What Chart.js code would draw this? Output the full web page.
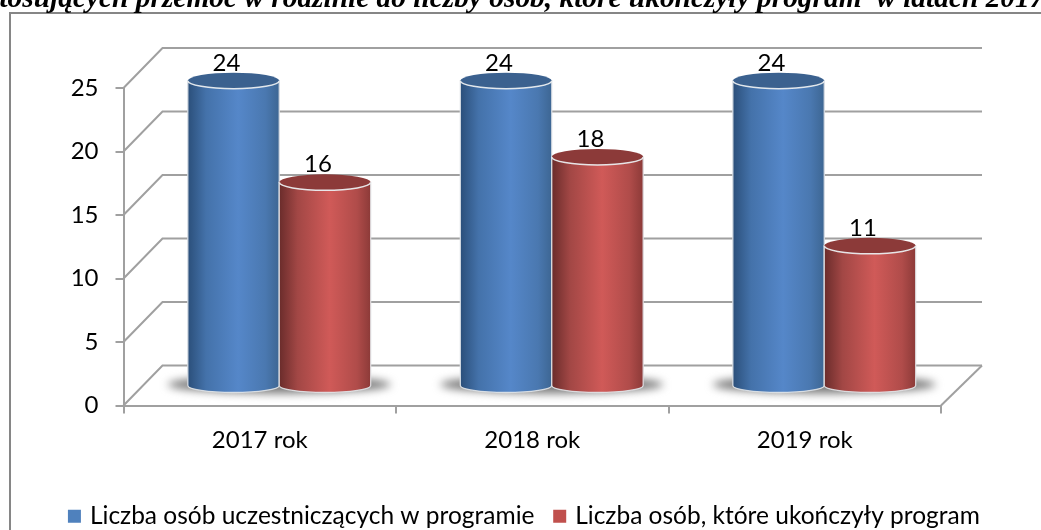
<!DOCTYPE html>
<html lang="pl">
<head>
<meta charset="utf-8">
<style>html,body{margin:0;padding:0;background:#fff}canvas{display:block}</style>
<script src="https://cdn.jsdelivr.net/npm/chart.js@4"></script>
</head>
<body>
<canvas id="c" width="1041" height="530"></canvas>
<script>
const categories = ['2017 rok', '2018 rok', '2019 rok'];
const seriesNames = ['Liczba osób uczestniczących w programie', 'Liczba osób, które ukończyły program'];
const participants = [24, 24, 24];
const completed = [16, 18, 11];
const yTicks = [0, 5, 10, 15, 20, 25];
const titleText = 'stosujących przemoc w rodzinie do liczby osób, które ukończyły program  w latach 2017';

const FONT = 'Lato, Carlito, sans-serif';
const GRID = '#a0a0a0';
const BAR_DX = 19.5, BAR_DY = -20, RY = 8;
const palettes = [
  {legend:'#4f81bd', stops:['#2b4f7a','#4472aa','#5587c9','#4a78b0','#3d6693'], top:'#3b618f'},
  {legend:'#c0504d', stops:['#6a2c2b','#a24745','#d05a58','#b04c4a','#8c3a38'], top:'#8c3a39'}
];

const depthPlugin = {
  id: 'depth3d',
  beforeLayout(chart) {
    const lg = chart.legend;
    if (lg && !lg._wideFit) {
      const fit = lg.fit;
      lg.fit = function () { this.maxWidth = 1041; fit.call(this); };
      lg._wideFit = true;
    }
  },
  afterLayout(chart) {
    const lg = chart.legend;
    lg.left = 0; lg.right = 1051;
    lg.top = 482; lg.bottom = 558;
  },
  beforeDraw(chart) {
    const c = chart.ctx;
    c.save();
    c.fillStyle = '#fff'; c.fillRect(0,0,chart.width,chart.height);
    c.strokeStyle = '#868686'; c.lineWidth = 2;
    c.beginPath(); c.moveTo(10,530); c.lineTo(10,13); c.lineTo(1041,13); c.stroke();
    c.font = 'italic bold 29.4px "Liberation Serif", serif';
    c.fillStyle = '#000'; c.textAlign='left'; c.textBaseline='alphabetic';
    c.fillText(titleText, -12, 6.5);
    c.restore();
  },
  beforeDatasetsDraw(chart) {
    const c = chart.ctx, y = chart.scales.y, a = chart.chartArea;
    c.save();
    c.strokeStyle = GRID; c.lineWidth = 2; c.lineCap = 'butt';
    yTicks.forEach(t => {
      const py = y.getPixelForValue(t);
      c.beginPath(); c.moveTo(a.left, py); c.lineTo(a.left+39, py-40); c.lineTo(a.right+41, py-40); c.stroke();
    });
    const b = y.getPixelForValue(0);
    c.beginPath(); c.moveTo(a.right, b); c.lineTo(a.right+41, b-40); c.stroke();
    // soft shadow under each pair of cylinders
    const m0 = chart.getDatasetMeta(0), m1 = chart.getDatasetMeta(1);
    categories.forEach((_, i) => {
      const cx = (m0.data[i].x + m1.data[i].x)/2 + BAR_DX, w = m0.data[i].width;
      c.save();
      c.filter = 'blur(4px)';
      c.fillStyle = '#7a7a7a';
      c.beginPath(); c.ellipse(cx, b+BAR_DY-1, w+20, 9, 0, 0, Math.PI*2); c.fill();
      c.restore();
    });
    c.restore();
  },
  beforeDatasetDraw(chart) { chart.ctx.save(); chart.ctx.translate(BAR_DX, BAR_DY); },
  afterDatasetDraw(chart) { chart.ctx.restore(); },
  afterDatasetsDraw(chart) {
    const c = chart.ctx, base = chart.scales.y.getPixelForValue(0) + BAR_DY;
    [0,1].forEach(ds => {
      const pal = palettes[ds];
      chart.getDatasetMeta(ds).data.forEach((el, i) => {
        const cx = el.x + BAR_DX, top = el.y + BAR_DY, rx = el.width/2;
        const g = c.createLinearGradient(cx-rx,0,cx+rx,0);
        pal.stops.forEach((s,k)=>g.addColorStop([0,.2,.55,.85,1][k],s));
        c.save();
        c.fillStyle = g;
        c.beginPath();
        c.moveTo(cx-rx, top);
        c.lineTo(cx-rx, base);
        c.ellipse(cx, base, rx, RY-1, 0, Math.PI, 0, true);
        c.lineTo(cx+rx, top);
        c.closePath(); c.fill();
        c.strokeStyle = 'rgba(225,228,232,.9)'; c.lineWidth = 1.3;
        c.stroke();
        c.fillStyle = pal.top;
        c.beginPath(); c.ellipse(cx, top, rx, RY, 0, 0, Math.PI*2); c.fill();
        c.strokeStyle = 'rgba(235,238,240,.95)'; c.lineWidth = 1.5;
        c.beginPath(); c.ellipse(cx, top, rx, RY, 0, 0, Math.PI); c.stroke();
        c.fillStyle = '#000';
        c.font = '24px ' + FONT; c.textAlign='center'; c.textBaseline='alphabetic';
        const vals = ds === 0 ? participants : completed;
        c.fillText(String(vals[i]), cx-7, top-10);
        c.restore();
      });
    });
  }
};

new Chart(document.getElementById('c'), {
  type: 'bar',
  data: {
    labels: categories,
    datasets: [
      {label: seriesNames[0], data: participants, backgroundColor: palettes[0].legend, borderWidth: 0},
      {label: seriesNames[1], data: completed, backgroundColor: palettes[1].legend, borderWidth: 0}
    ]
  },
  options: {
    responsive: false,
    animation: false,
    events: [],
    layout: {padding: {left: 0, right: 100, top: 88, bottom: 0}},
    datasets: {bar: {barPercentage: 1, categoryPercentage: 0.671, clip: false}},
    plugins: {
      title: {display: false},
      tooltip: {enabled: false},
      legend: {
        position: 'bottom',
        labels: {
          font: {family: FONT, size: 24.5},
          color: '#000',
          usePointStyle: true, pointStyle: 'rect',
          boxWidth: 6.5, boxHeight: 13,
          padding: 22
        }
      }
    },
    scales: {
      x: {
        afterFit(s) { s.height = 68; },
        grid: {drawOnChartArea: false, offset: true, color: GRID, lineWidth: 2, tickLength: 8, tickColor: GRID},
        border: {color: GRID, width: 2},
        ticks: {font: {family: FONT, size: 24}, color: '#000', padding: 12, maxRotation: 0}
      },
      y: {
        min: 0, max: 25,
        afterFit(s) { s.width = 123.5; },
        grid: {drawOnChartArea: false, color: GRID, lineWidth: 2, tickLength: 8, tickColor: GRID},
        border: {color: GRID, width: 2},
        afterBuildTicks(s) { s.ticks = yTicks.map(v => ({value: v})); },
        ticks: {font: {family: FONT, size: 24}, color: '#000', padding: 17}
      }
    }
  },
  plugins: [depthPlugin]
});
</script>
</body>
</html>
